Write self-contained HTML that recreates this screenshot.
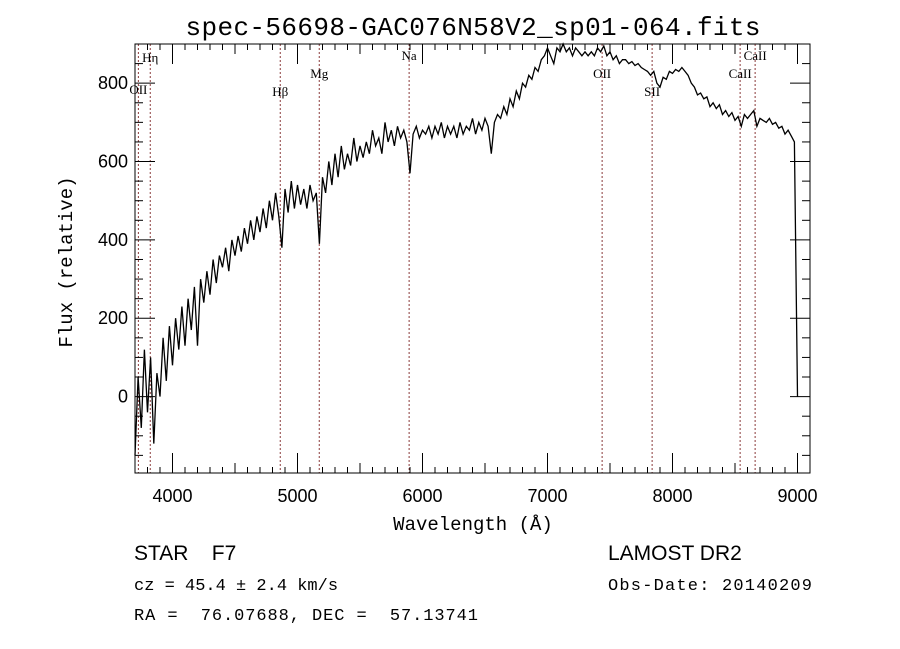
<!DOCTYPE html>
<html><head><meta charset="utf-8"><style>
body{margin:0;background:#fff;}
svg{display:block;}
text{fill:#000;white-space:pre;}
.m{font-family:"Liberation Mono",monospace;}
.s{font-family:"Liberation Sans",sans-serif;}
.r{font-family:"Liberation Serif",serif;}
</style></head><body>
<svg id="chart" width="900" height="649" xmlns="http://www.w3.org/2000/svg" xml:space="preserve">
<rect width="900" height="649" fill="#fff"/>
<text x="473" y="35" text-anchor="middle" class="m" font-size="26" textLength="575">spec-56698-GAC076N58V2_sp01-064.fits</text>
<g id="lines"></g>
<g id="ticks"></g>
<path id="spec" fill="none" stroke="#000" stroke-width="1.3"/>
<rect x="135" y="44" width="675" height="429" fill="none" stroke="#000" stroke-width="1"/>
<text x="473" y="530" text-anchor="middle" class="m" font-size="19">Wavelength (Å)</text>
<text transform="translate(72,262) rotate(-90)" text-anchor="middle" class="m" font-size="19">Flux (relative)</text>
<text x="134" y="560" class="s" font-size="21">STAR    F7</text>
<text x="134" y="590" class="m" font-size="17">cz = 45.4 ± 2.4 km/s</text>
<text x="134" y="620" class="m" font-size="17" textLength="344">RA =  76.07688, DEC =  57.13741</text>
<text x="608" y="560" class="s" font-size="21">LAMOST DR2</text>
<text x="608" y="590" class="m" font-size="17" textLength="204">Obs-Date: 20140209</text>
</svg>
<script>
const wlStart = 3700, wlStep = 25;
const flux = [-150,50,-80,120,-40,100,-120,60,0,150,40,180,80,200,120,230,130,250,170,280,130,300,240,320,260,350,290,360,330,380,320,400,360,410,370,430,390,450,400,460,420,480,430,500,450,520,460,380,530,470,550,480,540,490,530,480,540,500,520,390,560,520,600,540,620,560,640,580,620,590,660,600,640,610,650,620,680,640,660,620,700,650,680,640,690,660,680,650,570,670,690,660,680,670,690,660,690,670,700,660,690,670,690,660,700,670,690,680,710,670,700,680,710,690,620,700,720,710,740,720,760,740,780,760,800,790,820,810,840,830,860,870,890,870,850,890,880,900,880,890,870,890,880,870,880,870,880,870,890,880,895,870,880,860,870,850,860,860,850,855,845,850,840,835,830,820,830,800,790,815,810,830,825,835,830,840,830,820,800,790,770,775,760,765,740,750,735,745,720,730,715,725,705,715,690,720,710,720,730,690,710,705,700,710,695,700,685,690,670,680,665,650,0];
const lineNames = ["OII","Hη","Hβ","Mg","Na","OII","SII","CaII","CaII"];
const lineWl = [3727,3822,4862,5174,5893,7437,7837,8541,8661];
const lineLabelY = [94,62,96,78,60,78,96,78,60];
const xTicks = [4000,5000,6000,7000,8000,9000];
const yTicks = [0,200,400,600,800];
const X0=135,X1=810,Y0=473,Y1=44,WMIN=3700,WMAX=9100,FMIN=-195,FMAX=900;
const xs = w => X0+(w-WMIN)/(WMAX-WMIN)*(X1-X0);
const ys = f => Y0-(f-FMIN)/(FMAX-FMIN)*(Y0-Y1);
const NS="http://www.w3.org/2000/svg";
function mk(tag,attrs,parent){const e=document.createElementNS(NS,tag);for(const k in attrs)e.setAttribute(k,attrs[k]);parent.appendChild(e);return e;}
let d="";
flux.forEach((f,i)=>{const x=xs(wlStart+i*wlStep),y=ys(Math.max(FMIN,Math.min(FMAX,f)));d+=(i?"L":"M")+x.toFixed(1)+" "+y.toFixed(1);});
document.getElementById("spec").setAttribute("d",d);
const lg=document.getElementById("lines");
lineWl.forEach((w,i)=>{
  const l=mk("line",{x1:xs(w),x2:xs(w),y1:Y1,y2:Y0,stroke:"#8b3a3a","stroke-width":1,"stroke-dasharray":"2,2"},lg);
  
  
  const t=mk("text",{x:xs(w),y:lineLabelY[i],"text-anchor":"middle","font-size":13,"class":"r"},lg);
  t.textContent=lineNames[i];
  
  
});
const tg=document.getElementById("ticks");
for(let w=3700;w<=9100;w+=100){
  const major=w%1000===0, mid=w%500===0;
  const len=major?20:(mid?10:6);
  const a=mk("line",{x1:xs(w),x2:xs(w),y1:Y0,y2:Y0-len,stroke:"#000"},tg);
  
  
  const b=mk("line",{x1:xs(w),x2:xs(w),y1:Y1,y2:Y1+len,stroke:"#000"},tg);
  
  
}
xTicks.forEach(w=>{
  const t=mk("text",{x:xs(w),y:502,"text-anchor":"middle","font-size":18,"class":"s"},tg);
  t.textContent=w;
  
  
});
for(let f=-150;f<=900;f+=50){
  const major=f%200===0;
  const len=major?20:8;
  const a=mk("line",{x1:X0,x2:X0+len,y1:ys(f),y2:ys(f),stroke:"#000"},tg);
  
  
  const b=mk("line",{x1:X1,x2:X1-len,y1:ys(f),y2:ys(f),stroke:"#000"},tg);
  
  
}
yTicks.forEach(f=>{
  const t=mk("text",{x:128,y:ys(f)+6,"text-anchor":"end","font-size":18,"class":"s"},tg);
  t.textContent=f;
  
  
});
</script>
</body></html>
